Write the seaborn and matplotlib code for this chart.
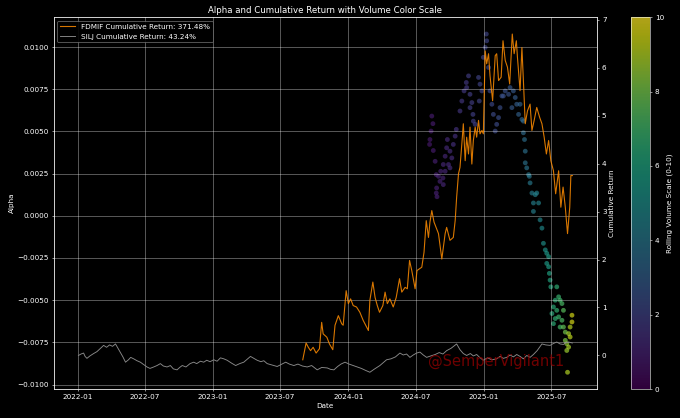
import pandas as pd
import matplotlib.pyplot as plt
import matplotlib.dates as mdates
from matplotlib.cm import ScalarMappable
from matplotlib.colors import Normalize
import seaborn as sns

# SILJ cumulative return
silj_dates = [
    '2022-01-03', '2022-01-10', '2022-01-17', '2022-01-21', '2022-01-26', '2022-02-03', '2022-02-13',
    '2022-02-22', '2022-03-01', '2022-03-12', '2022-03-20', '2022-03-28', '2022-04-05', '2022-04-13',
    '2022-04-19', '2022-04-26', '2022-05-03', '2022-05-10', '2022-05-18', '2022-05-24', '2022-06-01',
    '2022-06-10', '2022-06-19', '2022-06-28', '2022-07-07', '2022-07-15', '2022-07-25', '2022-08-03',
    '2022-08-12', '2022-08-20', '2022-08-30', '2022-09-08', '2022-09-16', '2022-09-26', '2022-10-03',
    '2022-10-10', '2022-10-20', '2022-10-31', '2022-11-10', '2022-11-18', '2022-11-28', '2022-12-07',
    '2022-12-15', '2022-12-24', '2023-01-03', '2023-01-12', '2023-01-21', '2023-01-30', '2023-02-08',
    '2023-02-20', '2023-03-03', '2023-03-14', '2023-03-25', '2023-04-03', '2023-04-12', '2023-04-21',
    '2023-04-30', '2023-05-10', '2023-05-18', '2023-05-27', '2023-06-05', '2023-06-14', '2023-06-23',
    '2023-07-03', '2023-07-16', '2023-07-26', '2023-08-07', '2023-08-18', '2023-08-30', '2023-09-12',
    '2023-09-24', '2023-10-09', '2023-10-21', '2023-11-05', '2023-11-14', '2023-11-23', '2023-12-03',
    '2023-12-12', '2023-12-23', '2024-01-03', '2024-01-14', '2024-01-25', '2024-02-05', '2024-02-16',
    '2024-02-28', '2024-03-10', '2024-03-26', '2024-04-04', '2024-04-13', '2024-04-25', '2024-05-07',
    '2024-05-19', '2024-05-28', '2024-06-06', '2024-06-15', '2024-06-24', '2024-07-03', '2024-07-12',
    '2024-07-21', '2024-07-30', '2024-08-10', '2024-08-22', '2024-09-02', '2024-09-12', '2024-09-22',
    '2024-10-04', '2024-10-19', '2024-10-28', '2024-11-06', '2024-11-15', '2024-11-25', '2024-12-03',
    '2024-12-12', '2024-12-20', '2024-12-30', '2025-01-10', '2025-01-22', '2025-02-04', '2025-02-13',
    '2025-02-22', '2025-03-03', '2025-03-12', '2025-03-21', '2025-03-30', '2025-04-08', '2025-04-17',
    '2025-04-26', '2025-05-05', '2025-05-14', '2025-05-24', '2025-06-06', '2025-06-16', '2025-06-28',
    '2025-07-07', '2025-07-16', '2025-07-25', '2025-08-03', '2025-08-10', '2025-08-17', '2025-08-27',
]
silj_ret = [
    0.00, 0.03, 0.05, -0.02, -0.06, -0.01, 0.04,
    0.08, 0.13, 0.21, 0.17, 0.22, 0.19, 0.24,
    0.16, 0.07, -0.03, -0.14, -0.09, -0.04, -0.07,
    -0.11, -0.14, -0.19, -0.24, -0.27, -0.24, -0.21,
    -0.17, -0.22, -0.24, -0.21, -0.28, -0.30, -0.25,
    -0.21, -0.24, -0.17, -0.14, -0.17, -0.12, -0.14,
    -0.10, -0.13, -0.09, -0.12, -0.05, -0.07, -0.10,
    -0.16, -0.21, -0.17, -0.14, -0.08, -0.02, -0.06,
    -0.10, -0.13, -0.11, -0.17, -0.19, -0.21, -0.23,
    -0.19, -0.14, -0.18, -0.21, -0.18, -0.22, -0.24,
    -0.21, -0.30, -0.25, -0.26, -0.29, -0.30, -0.23,
    -0.18, -0.14, -0.18, -0.21, -0.24, -0.27, -0.31,
    -0.35, -0.29, -0.21, -0.15, -0.09, -0.07, -0.03,
    0.05, 0.01, 0.03, -0.04, 0.01, 0.05, 0.07,
    0.01, -0.04, -0.01, 0.02, 0.06, 0.03, 0.10,
    0.15, 0.24, 0.12, 0.04, 0.00, 0.04, -0.01,
    0.02, -0.04, -0.10, -0.05, -0.09, -0.07, -0.02,
    -0.06, -0.04, 0.01, -0.03, 0.02, -0.02, -0.07,
    0.00, -0.04, 0.02, 0.10, 0.24, 0.22, 0.21,
    0.25, 0.28, 0.24, 0.23, 0.27, 0.28, 0.26,
]

# FDMIF cumulative return
fdmif_dates = [
    '2023-08-31', '2023-09-09', '2023-09-15', '2023-09-21', '2023-09-28', '2023-10-06', '2023-10-15',
    '2023-10-21', '2023-10-25', '2023-11-04', '2023-11-11', '2023-11-20', '2023-11-26', '2023-12-05',
    '2023-12-14', '2023-12-18', '2023-12-26', '2024-01-01', '2024-01-07', '2024-01-14', '2024-01-23',
    '2024-02-01', '2024-02-10', '2024-02-24', '2024-02-28', '2024-03-07', '2024-03-13', '2024-03-19',
    '2024-03-25', '2024-04-03', '2024-04-09', '2024-04-15', '2024-04-22', '2024-05-01', '2024-05-09',
    '2024-05-18', '2024-05-24', '2024-06-02', '2024-06-08', '2024-06-14', '2024-06-20', '2024-06-29',
    '2024-07-04', '2024-07-17', '2024-07-23', '2024-07-29', '2024-08-04', '2024-08-08', '2024-08-13',
    '2024-08-19', '2024-08-26', '2024-08-31', '2024-09-09', '2024-09-18', '2024-09-22', '2024-10-01',
    '2024-10-10', '2024-10-15', '2024-10-19', '2024-10-24', '2024-10-28', '2024-11-02', '2024-11-06',
    '2024-11-11', '2024-11-15', '2024-11-20', '2024-11-24', '2024-11-29', '2024-12-03', '2024-12-08',
    '2024-12-12', '2024-12-17', '2024-12-21', '2024-12-26', '2024-12-30', '2025-01-04', '2025-01-08',
    '2025-01-13', '2025-01-17', '2025-01-24', '2025-01-31', '2025-02-04', '2025-02-09', '2025-02-16',
    '2025-02-21', '2025-02-27', '2025-03-05', '2025-03-11', '2025-03-18', '2025-03-23', '2025-03-29',
    '2025-04-01', '2025-04-08', '2025-04-13', '2025-04-17', '2025-04-22', '2025-04-28', '2025-05-05',
    '2025-05-10', '2025-05-16', '2025-05-23', '2025-05-31', '2025-06-06', '2025-06-12', '2025-06-18',
    '2025-06-24', '2025-06-30', '2025-07-07', '2025-07-13', '2025-07-21', '2025-07-27', '2025-08-02',
    '2025-08-08', '2025-08-14', '2025-08-20', '2025-08-23', '2025-08-27',
]
fdmif_ret = [
    -0.09, 0.26, 0.17, 0.10, 0.17, 0.05, 0.14,
    0.69, 0.45, 0.38, 0.24, 0.12, 0.63, 0.83,
    0.66, 0.63, 1.35, 1.08, 1.18, 1.04, 1.01,
    0.90, 0.73, 0.52, 1.15, 1.53, 1.21, 1.04,
    0.90, 1.04, 1.32, 1.08, 1.18, 1.01, 1.21,
    1.60, 1.32, 1.42, 1.39, 1.98, 1.77, 1.39,
    1.77, 1.84, 2.15, 2.81, 2.46, 2.78, 3.02,
    2.78, 2.64, 2.54, 2.01, 2.54, 2.67, 2.40,
    2.46, 2.81, 3.30, 3.79, 3.92, 4.41, 4.83,
    4.06, 4.55, 4.20, 4.76, 3.99, 4.48, 4.76,
    4.55, 4.90, 4.62, 4.69, 4.62, 6.35, 6.08,
    6.29, 5.83, 5.31, 6.25, 6.29, 5.73, 5.80,
    6.56, 6.15, 6.01, 5.66, 6.70, 6.29, 6.56,
    6.21, 5.52, 6.42, 5.73, 4.83, 5.10, 5.24,
    4.69, 4.90, 5.17, 4.96, 4.83, 4.55, 4.20,
    4.48, 4.06, 3.85, 3.37, 3.85, 3.09, 3.51,
    3.09, 2.54, 3.09, 3.75, 3.75,
]

# Alpha points with rolling volume scale
alpha_dates = [
    '2024-08-07', '2024-08-08', '2024-08-11', '2024-08-13', '2024-08-16', '2024-08-17', '2024-08-22',
    '2024-08-25', '2024-08-25', '2024-08-26', '2024-08-27', '2024-08-31', '2024-09-04', '2024-09-06',
    '2024-09-12', '2024-09-13', '2024-09-13', '2024-09-18', '2024-09-18', '2024-09-22', '2024-09-24',
    '2024-09-27', '2024-10-01', '2024-10-01', '2024-10-06', '2024-10-10', '2024-10-15', '2024-10-18',
    '2024-10-28', '2024-11-02', '2024-11-08', '2024-11-14', '2024-11-15', '2024-11-20', '2024-11-24',
    '2024-11-24', '2024-11-29', '2024-12-02', '2024-12-03', '2024-12-08', '2024-12-17', '2024-12-19',
    '2024-12-21', '2024-12-26', '2024-12-30', '2025-01-04', '2025-01-07', '2025-01-08', '2025-01-13',
    '2025-01-17', '2025-01-22', '2025-01-26', '2025-01-31', '2025-02-04', '2025-02-09', '2025-02-13',
    '2025-02-18', '2025-02-22', '2025-02-27', '2025-03-08', '2025-03-12', '2025-03-17', '2025-03-21',
    '2025-03-26', '2025-03-30', '2025-04-04', '2025-04-08', '2025-04-13', '2025-04-17', '2025-04-17',
    '2025-04-20', '2025-04-22', '2025-04-22', '2025-04-26', '2025-05-01', '2025-05-03', '2025-05-05',
    '2025-05-10', '2025-05-14', '2025-05-14', '2025-05-19', '2025-05-23', '2025-05-28', '2025-06-01',
    '2025-06-06', '2025-06-10', '2025-06-15', '2025-06-19', '2025-06-19', '2025-06-24', '2025-06-24',
    '2025-06-26', '2025-06-28', '2025-06-30', '2025-07-03', '2025-07-07', '2025-07-07', '2025-07-12',
    '2025-07-12', '2025-07-16', '2025-07-16', '2025-07-21', '2025-07-21', '2025-07-25', '2025-07-25',
    '2025-07-30', '2025-07-30', '2025-08-03', '2025-08-03', '2025-08-08', '2025-08-08', '2025-08-12',
    '2025-08-12', '2025-08-14', '2025-08-17', '2025-08-17', '2025-08-21', '2025-08-21', '2025-08-26',
    '2025-08-26',
]
alpha_vals = [
    0.00423, 0.00452, 0.00502, 0.00591, 0.00546, 0.00387, 0.00323,
    0.00244, 0.00135, 0.00165, 0.00113, 0.00234, 0.00204, 0.00264,
    0.00224, 0.00304, 0.00185, 0.00353, 0.00264, 0.00403, 0.00452,
    0.00304, 0.00383, 0.00284, 0.00343, 0.00423, 0.00472, 0.00512,
    0.00621, 0.00680, 0.00740, 0.00790, 0.00760, 0.00829, 0.00720,
    0.00641, 0.00671, 0.00601, 0.00561, 0.00542, 0.00820, 0.00680,
    0.00780, 0.00740, 0.00939, 0.00998, 0.01077, 0.01037, 0.00879,
    0.00740, 0.00661, 0.00601, 0.00502, 0.00542, 0.00582, 0.00641,
    0.00710, 0.00710, 0.00740, 0.00720, 0.00760, 0.00641, 0.00740,
    0.00701, 0.00661, 0.00601, 0.00661, 0.00571, 0.00561, 0.00492,
    0.00452, 0.00383, 0.00314, 0.00284, 0.00244, 0.00234, 0.00195,
    0.00135, 0.00076, 0.00026, 0.00125, 0.00135, 0.00076, -0.00024,
    -0.00073, -0.00163, -0.00202, -0.00222, -0.00282, -0.00242, -0.00302,
    -0.00341, -0.00381, -0.00421, -0.00579, -0.00540, -0.00639, -0.00500,
    -0.00609, -0.00421, -0.00560, -0.00480, -0.00599, -0.00500, -0.00659,
    -0.00520, -0.00619, -0.00560, -0.00659, -0.00689, -0.00738, -0.00758,
    -0.00798, -0.00927, -0.00698, -0.00778, -0.00659, -0.00718, -0.00589,
    -0.00629,
]
volume_scale = [
    0.7, 0.7, 0.8, 0.8, 0.8, 0.8, 0.9,
    0.9, 0.9, 0.9, 0.9, 1.0, 1.0, 1.0,
    1.0, 1.1, 1.1, 1.1, 1.1, 1.2, 1.2,
    1.2, 1.3, 1.3, 1.3, 1.4, 1.4, 1.5,
    1.6, 1.6, 1.7, 1.7, 1.7, 1.8, 1.8,
    1.8, 1.8, 1.9, 1.9, 1.9, 2.0, 2.0,
    2.0, 2.0, 2.1, 2.1, 2.1, 2.1, 2.2,
    2.2, 2.2, 2.3, 2.3, 2.3, 2.4, 2.4,
    2.5, 2.5, 2.5, 2.6, 2.7, 2.8, 2.8,
    2.9, 3.0, 3.1, 3.2, 3.3, 3.4, 3.5,
    3.6, 3.7, 3.8, 3.9, 4.0, 4.0, 4.1,
    4.2, 4.3, 4.3, 4.4, 4.4, 4.5, 4.7,
    4.8, 5.0, 5.2, 5.4, 5.5, 5.6, 5.7,
    5.9, 6.0, 6.1, 6.3, 6.4, 6.5, 6.5,
    6.6, 6.6, 6.7, 6.8, 6.9, 7.0, 7.1,
    7.2, 7.3, 7.5, 7.7, 8.0, 8.2, 8.5,
    8.7, 9.0, 8.8, 8.9, 9.1, 9.2, 9.5,
    9.6,
]

silj = pd.DataFrame({'Date': pd.to_datetime(silj_dates), 'Return': silj_ret})
fdmif = pd.DataFrame({'Date': pd.to_datetime(fdmif_dates), 'Return': fdmif_ret})
alpha = pd.DataFrame({'Date': pd.to_datetime(alpha_dates), 'Alpha': alpha_vals, 'Volume': volume_scale})

plt.style.use('dark_background')
plt.rcParams['font.size'] = 10.5

fig = plt.figure(figsize=(13.6, 8.36), dpi=50)
ax = fig.add_axes([0.079, 0.069, 0.799, 0.89])
cax = fig.add_axes([0.928, 0.069, 0.028, 0.89])

# alpha scatter coloured by volume
sns.scatterplot(data=alpha, x='Date', y='Alpha', hue='Volume', palette='viridis',
                hue_norm=(0, 10), legend=False, s=48, alpha=0.65, linewidth=0, ax=ax)
ax.set_ylabel('Alpha')
ax.set_xlabel('Date')
ax.grid(True, color='white', alpha=0.4, linewidth=1.2)
ax.xaxis.set_major_locator(mdates.MonthLocator(bymonth=[1, 7]))
ax.xaxis.set_major_formatter(mdates.DateFormatter('%Y-%m'))

# cumulative returns on the right axis
ax2 = ax.twinx()
sns.lineplot(data=fdmif, x='Date', y='Return', color='darkorange', alpha=0.85, linewidth=1.6,
             label='FDMIF Cumulative Return: 371.48%', ax=ax2)
sns.lineplot(data=silj, x='Date', y='Return', color='#8a8a8a', linewidth=1.3,
             label='SILJ Cumulative Return: 43.24%', ax=ax2)
ax2.set_ylabel('Cumulative Return')
ax2.legend(loc='upper left', facecolor='black', edgecolor='gray', framealpha=0.9)

ax.set_title('Alpha and Cumulative Return with Volume Color Scale', fontsize=12.5)

ax2.text(0.815, 0.075, '@SemperVigilant1', transform=ax2.transAxes, ha='center', va='center',
         fontsize=21, color='#8b0000', alpha=0.8)

cb = fig.colorbar(ScalarMappable(norm=Normalize(0, 10), cmap='viridis'), cax=cax, alpha=0.7)
cb.set_label('Rolling Volume Scale (0-10)')

plt.savefig('out.png', dpi=50)
plt.close()
